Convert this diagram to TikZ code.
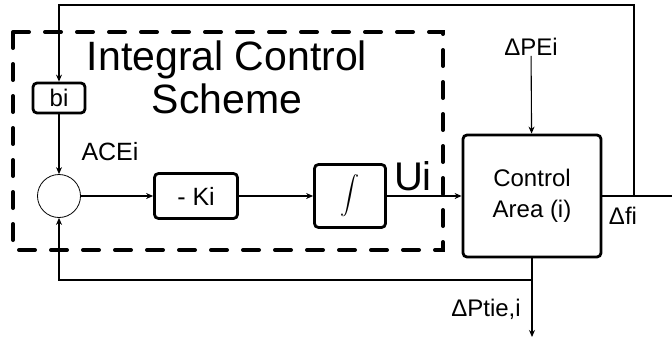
\documentclass[tikz,border=0pt]{standalone}
\usepackage{fontspec}
\setmainfont{Liberation Sans}
\usetikzlibrary{positioning, arrows.meta}

\begin{document}
\begin{tikzpicture}[x=1pt, y=-1pt,
block/.style={rectangle, draw, line width=2.8pt, rounded corners=4pt, inner sep=0pt},
sumpt/.style={circle, draw, line width=0.8pt, minimum size=43pt, inner sep=0pt},
sig/.style={-{Stealth[length=7pt,width=6pt]}, line width=1.1pt},
wire/.style={line width=1.1pt},
lbl/.style={inner sep=0pt, font=\fontsize{24}{31}\selectfont},
scheme/.style={draw, line width=4pt, dash pattern=on 16pt off 16pt, line cap=round}
]
\useasboundingbox (0,0) rectangle (672,340);
\draw[scheme] (13,32) rectangle (443,250);
\node[block, minimum width=52pt, minimum height=30pt, font=\fontsize{24}{24}\selectfont] (bi) at (59,98) {bi};
\node[sumpt] (sum) at (59,196) {};
\node[block, minimum width=83pt, minimum height=45pt, font=\fontsize{25}{25}\selectfont] (ki) at (196,196) {- Ki};
\node[block, minimum width=71pt, minimum height=63pt] (integ) at (350,196) {\scalebox{1.9}{$\displaystyle\int$}};
\node[block, minimum width=138pt, minimum height=122pt, align=center, font=\fontsize{24}{31}\selectfont] (area) at (532,196) {Control\\Area (i)};
\node[inner sep=0pt, align=center, font=\fontsize{41}{43}\selectfont] (title) at (227,77) {Integral Control\\Scheme};
\node[inner sep=0pt, font=\fontsize{40}{40}\selectfont] (ui) at (413,176) {Ui};
\node[lbl, font=\fontsize{25}{25}\selectfont] (ace) at (110,152) {ACEi};
\node[lbl] (pe) at (531,47) {ΔPEi};
\node[lbl] (df) at (623,216) {Δfi};
\node[lbl] (ptie) at (486,309) {ΔPtie,i};
\coordinate (topl) at (59,5);
\coordinate (junc) at (634,196);
\coordinate (out) at (672,196);
\coordinate (fb) at (532,280);
\coordinate (down) at (532,337);
% signal path
\draw[sig] (junc) |- (topl) -- (bi);
\draw[wire] (area.east) -- (out);
\draw[sig] (bi) -- (sum);
\draw[sig] (sum) -- (ki);
\draw[sig] (ki) -- (integ);
\draw[sig] (integ) -- (area);
\draw[sig] (pe) -- (area);
\draw[sig] (area) -- (down);
\draw[sig] (fb) -| (sum);
\end{tikzpicture}
\end{document}
